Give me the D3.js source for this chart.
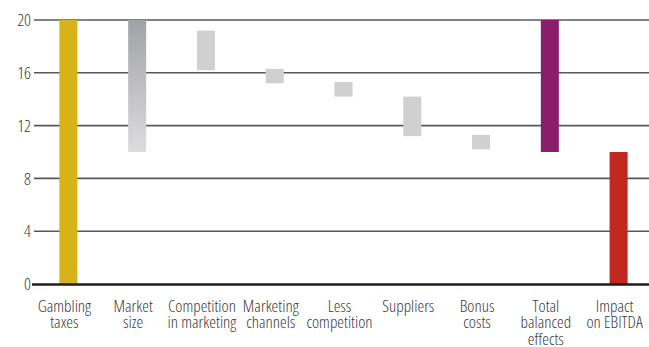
<!DOCTYPE html>
<html>
<head>
<meta charset="utf-8">
<script src="https://cdn.jsdelivr.net/npm/d3@7"></script>
<style>
  body { margin: 0; background: #fff; }
  svg text { font-family: "Open Sans", "Liberation Sans Narrow", sans-serif; font-stretch: 80%; font-weight: 300; fill: #3a3a3a; }
</style>
</head>
<body>
<svg id="chart"></svg>
<script>
// categories and bar ranges (start, end)
const categories = ['Gambling\ntaxes', 'Market\nsize', 'Competition\nin marketing', 'Marketing\nchannels',
  'Less\ncompetition', 'Suppliers', 'Bonus\ncosts', 'Total\nbalanced\neffects', 'Impact\non EBITDA'];
const barStart = [0, 10, 16.2, 15.2, 14.2, 11.2, 10.2, 10, 0];
const barEnd = [20, 20, 19.2, 16.3, 15.3, 14.2, 11.3, 20, 10];
const barKind = ['gold', 'grad', 'step', 'step', 'step', 'step', 'step', 'purple', 'red'];
const yTicks = [0, 4, 8, 12, 16, 20];

const width = 649, height = 347;
const svg = d3.select('#chart').attr('width', width).attr('height', height);

const x = d3.scaleBand().domain(categories).range([34, 653]).paddingInner(0.738).paddingOuter(0.369);
const y = d3.scaleLinear().domain([0, 20]).range([284, 20]);

const colors = { gold: '#d8b219', step: '#d0d0d0', purple: '#8a1d6c', red: '#c1281f', grad: 'url(#mkt)' };

const grad = svg.append('defs').append('linearGradient')
  .attr('id', 'mkt').attr('x1', 0).attr('y1', 0).attr('x2', 0).attr('y2', 1);
grad.append('stop').attr('offset', 0).attr('stop-color', '#a1a2a6');
grad.append('stop').attr('offset', 1).attr('stop-color', '#dddddf');

// gridlines + y labels
const yAxis = d3.axisLeft(y).tickValues(yTicks).tickSize(0).tickPadding(0);
const yg = svg.append('g').attr('transform', 'translate(31,0)').call(yAxis);
yg.select('.domain').remove();
yg.selectAll('text').attr('font-size', 17).attr('font-family', null).attr('dy', '0.34em');

svg.append('g').selectAll('line')
  .data(yTicks.filter(d => d !== 0))
  .enter().append('line')
  .attr('x1', 34).attr('x2', width)
  .attr('y1', d => y(d)).attr('y2', d => y(d))
  .attr('stroke', '#585858').attr('stroke-width', 1.6);

// bars
svg.append('g').selectAll('rect')
  .data(categories)
  .enter().append('rect')
  .attr('x', d => x(d))
  .attr('width', x.bandwidth())
  .attr('y', (d, i) => y(barEnd[i]))
  .attr('height', (d, i) => y(barStart[i]) - y(barEnd[i]))
  .attr('fill', (d, i) => colors[barKind[i]]);

// baseline
svg.append('line')
  .attr('x1', 32).attr('x2', width)
  .attr('y1', y(0) + 0.5).attr('y2', y(0) + 0.5)
  .attr('stroke', '#1e1e1e').attr('stroke-width', 2.4);

// category labels
const labels = svg.append('g').selectAll('text')
  .data(categories)
  .enter().append('text')
  .attr('text-anchor', 'middle')
  .attr('font-size', 17)
  .attr('transform', d => `translate(${x(d) + x.bandwidth() / 2 - 4},311.5)`);

labels.selectAll('tspan')
  .data(d => d.split('\n'))
  .enter().append('tspan')
  .attr('x', 0)
  .attr('y', (d, i) => i * 16.5)
  .text(d => d);
</script>
</body>
</html>
